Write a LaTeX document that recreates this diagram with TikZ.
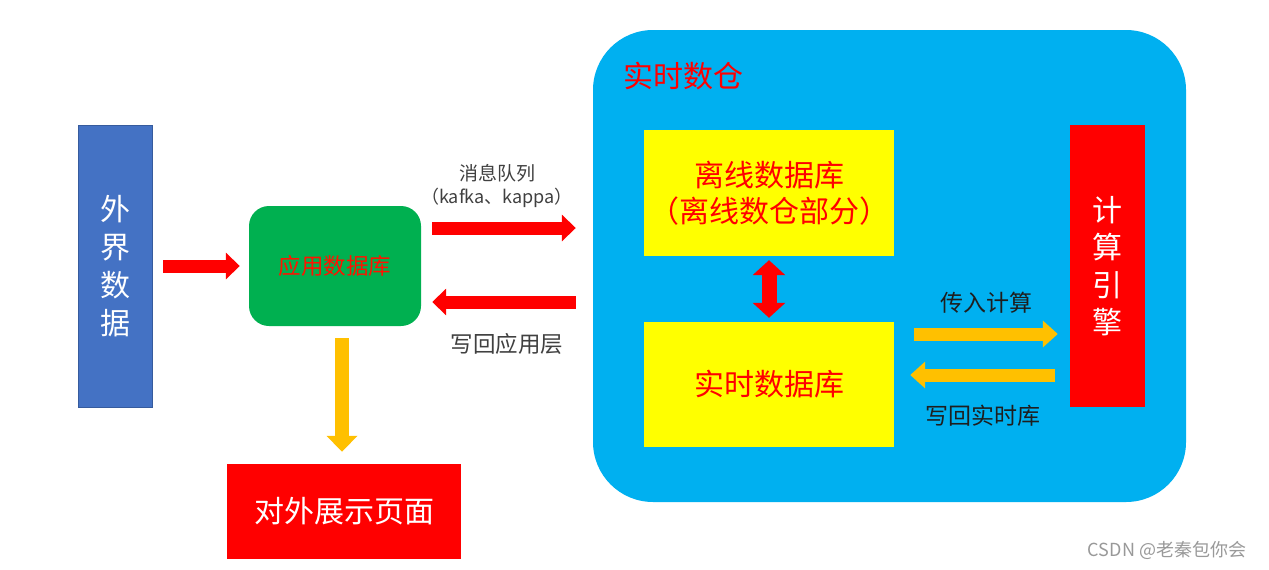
\documentclass[tikz,border=0pt]{standalone}
\usepackage{fontspec}
\setmainfont{Noto Sans CJK SC}
\usetikzlibrary{arrows.meta,calc}
\definecolor{cBlue}{HTML}{4472C4}
\definecolor{cGreen}{HTML}{00B050}
\definecolor{cRed}{HTML}{FF0000}
\definecolor{cYellow}{HTML}{FFFF00}
\definecolor{cCyan}{HTML}{00B0F0}
\definecolor{cOrange}{HTML}{FFC000}
\definecolor{cLabel}{HTML}{404040}
\definecolor{cDark}{HTML}{1E1E1E}
\newcommand{\fs}[2]{\fontsize{#1}{#2}\selectfont}
\begin{document}
\begin{tikzpicture}[x=1pt,y=-1pt,
  box/.style={inner sep=0pt, align=center},
  redarr/.style={draw=cRed, line width=13pt, -{Triangle[width=26pt,length=14pt]}},
  orgarr/.style={draw=cOrange, line width=13pt, -{Triangle[width=26pt,length=15pt]}},
  lbl/.style={text=cLabel, inner sep=0pt}
]
\useasboundingbox (0,0) rectangle (1269,570);
\fill[white] (0,0) rectangle (1269,570);

% nodes
\node[box, fill=cBlue, draw=cBlue!80!black, line width=0.8pt, minimum width=74pt, minimum height=282pt,
      text=white, font=\fs{30}{38}] (ext) at (115,266) {外\\界\\数\\据};
\node[box, fill=cGreen, rounded corners=20pt, minimum width=172pt, minimum height=120pt,
      text=cRed!85!orange, font=\fs{22.5}{26}] (app) at (335,266) {应用数据库};
\node[box, fill=cRed, minimum width=234pt, minimum height=95pt,
      text=white, font=\fs{30}{36}] (show) at (344,511.5) {对外展示页面};
\node[box, fill=cCyan, rounded corners=60pt, minimum width=593pt, minimum height=472pt] (dw) at (889.5,266) {};
\node[text=cRed, inner sep=0pt, font=\fs{30}{34}] (dwt) at (683,76) {实时数仓};
\node[box, fill=cYellow, minimum width=250pt, minimum height=126pt,
      text=cRed, font=\fs{30}{36}] (off) at (769,193) {离线数据库\\（离线数仓部分）};
\node[box, fill=cYellow, minimum width=250pt, minimum height=125pt,
      text=cRed, font=\fs{30}{36}] (rt) at (769,384.5) {实时数据库};
\node[box, fill=cRed, minimum width=75pt, minimum height=282pt,
      text=white, font=\fs{30}{37.5}] (eng) at (1107.5,266) {计\\算\\引\\擎};

% connectors
\draw[redarr, shorten <=11pt, shorten >=9pt] (ext.east) -- (app.west);
\draw[redarr] ($(app.east)+(11,-38)$) -- ($(dw.west)+(-17,-38)$);
\draw[redarr] ($(dw.west)+(-17,36)$) -- ($(app.east)+(11,36)$);
\draw[draw=cOrange, line width=14pt, -{Triangle[width=30pt,length=16pt]}]
  ($(app.south)+(7,12)$) -- ($(show.north)+(-2,-12)$);
\draw[draw=cRed, line width=15pt, {Triangle[width=32pt,length=15pt]}-{Triangle[width=32pt,length=15pt]}]
  ($(off.south)+(0,4)$) -- ($(rt.north)+(0,-4)$);
\draw[orgarr] ($(rt.east)+(20,-50.5)$) -- ($(eng.west)+(-12,68)$);
\draw[orgarr] ($(eng.west)+(-15,109)$) -- ($(rt.east)+(16,-9.5)$);

% labels
\node[lbl, font=\fs{19}{20}] (mq) at (497,173) {消息队列};
\node[lbl, font=\fs{18}{20}] (mq2) at (497,198) {（kafka、kappa）};
\node[lbl, font=\fs{22.5}{24}] (wb) at (507,344) {写回应用层};
\node[text=cDark, inner sep=0pt, font=\fs{23}{24}] (cr) at (986,303) {传入计算};
\node[text=cDark, inner sep=0pt, font=\fs{23}{24}] (wr) at (983,416) {写回实时库};
\node[text=gray!80, inner sep=0pt, font=\fs{18}{20}] (wm) at (1167,550) {CSDN @老秦包你会};
\end{tikzpicture}
\end{document}
